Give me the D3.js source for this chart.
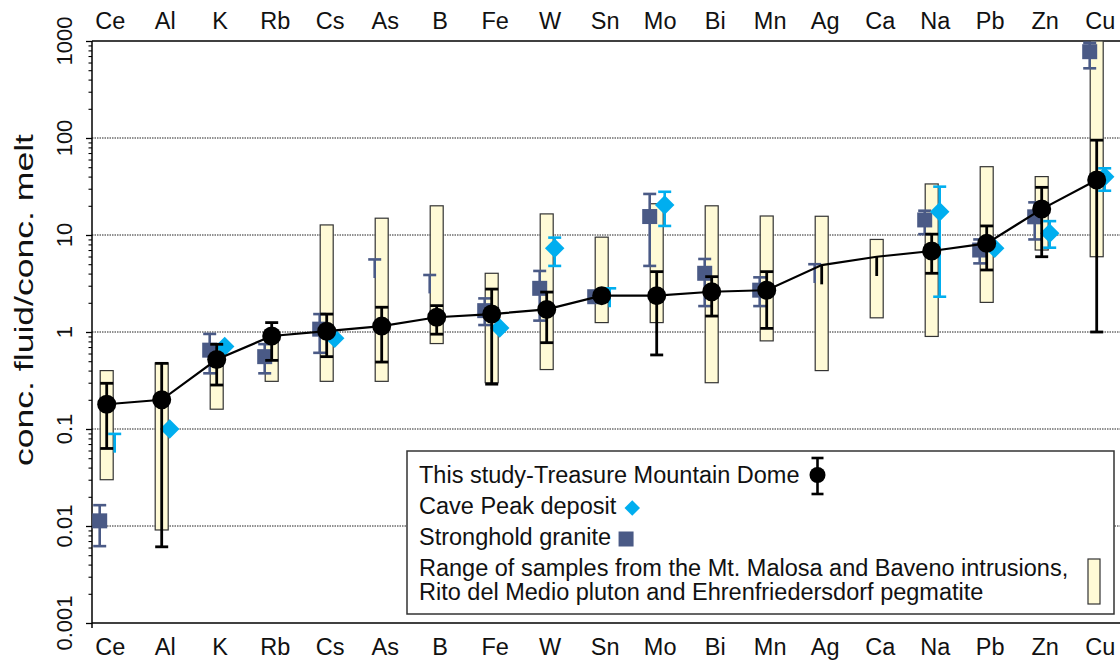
<!DOCTYPE html>
<html>
<head>
<meta charset="utf-8">
<script src="https://cdn.jsdelivr.net/npm/d3@7"></script>
<style>
  html, body { margin: 0; padding: 0; background: #fff; }
  svg { display: block; font-family: "Liberation Sans", Arial, Helvetica, sans-serif; }
</style>
</head>
<body>
<svg id="chart" width="1120" height="662"></svg>
<script>
// element order along x
const elements = ["Ce","Al","K","Rb","Cs","As","B","Fe","W","Sn","Mo","Bi","Mn","Ag","Ca","Na","Pb","Zn","Cu"];

// This study - Treasure Mountain Dome (mean, error low, error high, marker shown)
const studyMean = [0.18, 0.20, 0.52, 0.91, 1.02, 1.15, 1.42, 1.53, 1.71, 2.37, 2.37, 2.6, 2.7, 4.9, 5.97, 6.84, 8.2, 18.5, 36.9];
const studyLow  = [0.063, 0.0061, 0.284, 0.51, 0.557, 0.49, 0.95, 0.29, 0.776, null, 0.58, 1.46, 1.09, 3.1, 3.78, 4.03, 4.36, 5.97, 1.0];
const studyHigh = [0.296, 0.475, 0.747, 1.25, 1.53, 1.8, 1.87, 2.77, 2.58, null, 4.19, 3.72, 4.19, null, null, 10.2, 12.4, 31, 95];
const studyDot  = [1,1,1,1,1,1,1,1,1,1,1,1,1,0,0,1,1,1,1];

// Cave Peak deposit
const caveVal  = [0.057, 0.10, 0.71, null, 0.86, null, null, 1.1, 7.3, 1.8, 20.4, null, null, null, null, 17.4, 7.3, 10.4, 39.9];
const caveLow  = [null, null, null, null, null, null, null, null, 4.8, null, 12.4, null, null, null, null, 2.31, null, 7.4, 28.6];
const caveHigh = [0.089, null, null, null, null, null, null, null, 9.4, 2.82, 27.9, null, null, null, null, 31.5, null, 13.9, 48.7];
const caveDot  = [0,1,1,0,1,0,0,1,1,0,1,0,0,0,0,1,1,1,1];

// Stronghold granite
const strongVal  = [0.0113, null, 0.65, 0.557, 1.07, 3.6, 2.5, 1.66, 2.82, 2.31, 15.5, 4.03, 2.7, 3.2, null, 14.3, 7.0, 15.4, 776];
const strongLow  = [0.0062, null, 0.375, 0.375, 0.61, null, null, 1.18, 1.31, null, 4.8, 1.85, 1.85, null, null, 10.2, 5.1, 9.0, 523];
const strongHigh = [0.0164, null, 0.955, 0.75, 1.53, 5.6, 3.87, 2.22, 4.26, null, 26.5, 5.66, 3.66, 5.0, null, 17.8, 9.0, 21.7, 959];
const strongDot  = [1,0,1,1,1,0,0,1,1,1,1,1,1,0,0,1,1,1,1];

// Range of samples (Mt. Malosa, Baveno, Rito del Medio, Ehrenfriedersdorf)
const rangeMin = [0.03, 0.0091, 0.16, 0.31, 0.31, 0.31, 0.76, 0.30, 0.41, 1.25, 1.25, 0.30, 0.81, 0.40, 1.4, 0.9, 2.02, 7.0, 5.97];
const rangeMax = [0.40, 0.48, 0.75, 0.8, 12.7, 14.9, 20, 4.03, 16.5, 9.5, 21, 20, 15.7, 15.6, 9.0, 33.6, 50.6, 40, 1000];

const yTicks = [0.001, 0.01, 0.1, 1, 10, 100, 1000];
const yTickLabels = ["0.001", "0.01", "0.1", "1", "10", "100", "1000"];
const gridValues = [0.01, 0.1, 1, 10, 100];

const legendLabels = [
	"This study-Treasure Mountain Dome",
	"Cave Peak deposit",
	"Stronghold granite",
	"Range of samples from the Mt. Malosa and Baveno intrusions,",
	"Rito del Medio pluton and Ehrenfriedersdorf pegmatite"
];

const COLOR_STUDY = "#000";
const COLOR_CAVE = "#00aeef";
const COLOR_STRONG = "#4a5a86";
const COLOR_RANGE = "#fffad6";

const PLOT_L = 92, PLOT_R = 1120, PLOT_T = 41, PLOT_B = 623;

const svg = d3.select("#chart");

const x = d3.scalePoint().domain(elements).range([PLOT_L + 14.7, PLOT_L + 1004.7]);
const y = d3.scaleLog().domain([0.001, 1000]).range([PLOT_B, PLOT_T]);

svg.append("clipPath").attr("id", "plotclip")
	.append("rect")
	.attr("x", PLOT_L).attr("y", PLOT_T)
	.attr("width", PLOT_R - PLOT_L).attr("height", PLOT_B - PLOT_T);

// gridlines
svg.append("g").selectAll("line")
	.data(gridValues)
	.join("line")
	.attr("x1", PLOT_L).attr("x2", PLOT_R)
	.attr("y1", d => y(d)).attr("y2", d => y(d))
	.attr("stroke", "#222")
	.attr("stroke-width", 1)
	.attr("stroke-dasharray", "1.5,1");

// frame lines
svg.append("line").attr("x1", PLOT_L).attr("x2", PLOT_R).attr("y1", PLOT_T).attr("y2", PLOT_T)
	.attr("stroke", "#000").attr("stroke-width", 1.5);
svg.append("line").attr("x1", PLOT_L).attr("x2", PLOT_R).attr("y1", PLOT_B).attr("y2", PLOT_B)
	.attr("stroke", "#000").attr("stroke-width", 1.5);

// y axis with major and minor ticks
const minorTicks = [];
yTicks.slice(0, -1).forEach(t => { for (let k = 2; k <= 9; k++) minorTicks.push(t * k); });

const yAxisMajor = svg.append("g")
	.attr("transform", `translate(${PLOT_L},0)`)
	.call(d3.axisLeft(y).tickValues(yTicks).tickSize(6).tickFormat(""));
yAxisMajor.select(".domain").remove();
yAxisMajor.selectAll("line").attr("stroke-width", 1.3);

const yAxisMinor = svg.append("g")
	.attr("transform", `translate(${PLOT_L},0)`)
	.call(d3.axisLeft(y).tickValues(minorTicks).tickSize(3.5).tickFormat(""));
yAxisMinor.select(".domain").remove();
yAxisMinor.selectAll("line").attr("stroke-width", 1.1);

svg.append("line").attr("x1", PLOT_L).attr("x2", PLOT_L).attr("y1", PLOT_T).attr("y2", PLOT_B + 5)
	.attr("stroke", "#000").attr("stroke-width", 1.5);

svg.append("g").selectAll("text")
	.data(yTicks)
	.join("text")
	.attr("transform", d => `translate(72,${y(d)}) rotate(-90)`)
	.attr("text-anchor", "middle")
	.attr("font-size", 22)
	.attr("fill", "#111")
	.text((d, i) => yTickLabels[i]);

// axis title (stretched along its length like the original)
svg.append("text")
	.attr("transform", "translate(33,300) rotate(-90)")
	.attr("text-anchor", "middle")
	.attr("font-size", 25)
	.attr("fill", "#111")
	.attr("textLength", 332)
	.attr("lengthAdjust", "spacingAndGlyphs")
	.text("conc. fluid/conc. melt");

// category labels top and bottom
[["top", 29], ["bottom", 655]].forEach(([side, yy]) => {
	svg.append("g").selectAll("text")
		.data(elements)
		.join("text")
		.attr("x", d => x(d) + 3.5)
		.attr("y", yy)
		.attr("text-anchor", "middle")
		.attr("font-size", 23.5)
		.attr("fill", "#111")
		.text(d => d);
});

const plot = svg.append("g").attr("clip-path", "url(#plotclip)");

// range bars
const BAR_W = 13;
plot.append("g").selectAll("rect")
	.data(elements)
	.join("rect")
	.attr("x", d => x(d) - BAR_W / 2)
	.attr("width", BAR_W)
	.attr("y", (d, i) => y(rangeMax[i]))
	.attr("height", (d, i) => y(rangeMin[i]) - y(rangeMax[i]))
	.attr("fill", COLOR_RANGE)
	.attr("stroke", "#333")
	.attr("stroke-width", 1.2);

// error bar helper: stem from (low or value) to (high or value),
// cap at high always, cap at low only when the marker is shown
function errorBars(g, vals, lows, highs, dots, dx, color, width) {
	const CAP = 6.5;
	elements.forEach((el, i) => {
		if (vals[i] == null) return;
		const cx = x(el) + dx;
		const top = highs[i] != null ? highs[i] : vals[i];
		const bot = lows[i] != null ? lows[i] : vals[i];
		if (top === bot) return;
		g.append("line")
			.attr("x1", cx).attr("x2", cx)
			.attr("y1", y(top)).attr("y2", y(bot))
			.attr("stroke", color).attr("stroke-width", width);
		if (highs[i] != null) {
			g.append("line")
				.attr("x1", cx - CAP).attr("x2", cx + CAP)
				.attr("y1", y(highs[i])).attr("y2", y(highs[i]))
				.attr("stroke", color).attr("stroke-width", width);
		}
		if (lows[i] != null && dots[i]) {
			g.append("line")
				.attr("x1", cx - CAP).attr("x2", cx + CAP)
				.attr("y1", y(lows[i])).attr("y2", y(lows[i]))
				.attr("stroke", color).attr("stroke-width", width);
		}
	});
}

// Stronghold granite
const gStrong = plot.append("g");
errorBars(gStrong, strongVal, strongLow, strongHigh, strongDot, -7, COLOR_STRONG, 2.6);
gStrong.selectAll("rect.sq")
	.data(elements.filter((d, i) => strongVal[i] != null && strongDot[i]))
	.join("rect")
	.attr("class", "sq")
	.attr("x", d => x(d) - 7 - 7.5)
	.attr("y", d => y(strongVal[elements.indexOf(d)]) - 7.5)
	.attr("width", 15).attr("height", 15)
	.attr("fill", COLOR_STRONG);

// Cave Peak deposit
const gCave = plot.append("g");
errorBars(gCave, caveVal, caveLow, caveHigh, caveDot, 8, COLOR_CAVE, 2.6);
const diamond = d3.symbol().type(d3.symbolSquare).size(190);
gCave.selectAll("path.dm")
	.data(elements.filter((d, i) => caveVal[i] != null && caveDot[i]))
	.join("path")
	.attr("class", "dm")
	.attr("d", diamond)
	.attr("transform", d => `translate(${x(d) + 8},${y(caveVal[elements.indexOf(d)])}) rotate(45)`)
	.attr("fill", COLOR_CAVE);

// This study line, error bars and dots
const gStudy = plot.append("g");
gStudy.append("path")
	.datum(elements)
	.attr("fill", "none")
	.attr("stroke", COLOR_STUDY)
	.attr("stroke-width", 2.2)
	.attr("d", d3.line().x(d => x(d)).y((d, i) => y(studyMean[i])));
errorBars(gStudy, studyMean, studyLow, studyHigh, studyDot, 0, COLOR_STUDY, 2.8);
gStudy.selectAll("circle")
	.data(elements.filter((d, i) => studyDot[i]))
	.join("circle")
	.attr("cx", d => x(d))
	.attr("cy", d => y(studyMean[elements.indexOf(d)]))
	.attr("r", 9.5)
	.attr("fill", COLOR_STUDY);

// legend
const LG = { x: 407, y: 451, w: 707, h: 163 };
const legend = svg.append("g");
legend.append("rect")
	.attr("x", LG.x).attr("y", LG.y).attr("width", LG.w).attr("height", LG.h)
	.attr("fill", "#fff").attr("stroke", "#333").attr("stroke-width", 1.5);

const baselines = [483, 514, 545, 576, 600];
const texts = legend.selectAll("text")
	.data(legendLabels)
	.join("text")
	.attr("x", LG.x + 12)
	.attr("y", (d, i) => baselines[i])
	.attr("font-size", 23.5)
	.attr("fill", "#111")
	.text(d => d);

const tl = texts.nodes().map(n => n.getComputedTextLength());

// circle with error bar
const lx0 = LG.x + 12 + tl[0] + 18;
legend.append("line").attr("x1", lx0).attr("x2", lx0).attr("y1", 458).attr("y2", 494)
	.attr("stroke", "#000").attr("stroke-width", 2.6);
[458, 494].forEach(v => legend.append("line")
	.attr("x1", lx0 - 6).attr("x2", lx0 + 6).attr("y1", v).attr("y2", v)
	.attr("stroke", "#000").attr("stroke-width", 2.6));
legend.append("circle").attr("cx", lx0).attr("cy", 475).attr("r", 8).attr("fill", "#000");

// diamond
legend.append("path")
	.attr("d", d3.symbol().type(d3.symbolSquare).size(120))
	.attr("transform", `translate(${LG.x + 12 + tl[1] + 16},508) rotate(45)`)
	.attr("fill", COLOR_CAVE);

// square
legend.append("rect")
	.attr("x", LG.x + 12 + tl[2] + 15 - 7.5).attr("y", 531.5)
	.attr("width", 15).attr("height", 15)
	.attr("fill", COLOR_STRONG);

// range bar swatch
legend.append("rect")
	.attr("x", 1088).attr("y", 559).attr("width", 12).attr("height", 45)
	.attr("fill", COLOR_RANGE).attr("stroke", "#333").attr("stroke-width", 1.2);
</script>
</body>
</html>
